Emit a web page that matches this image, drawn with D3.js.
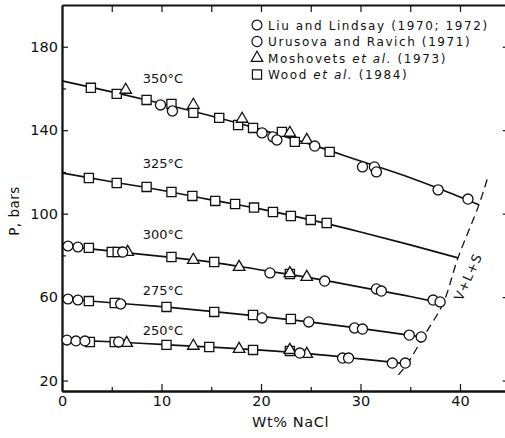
<!DOCTYPE html>
<html>
<head>
<meta charset="utf-8">
<script src="https://cdn.jsdelivr.net/npm/d3@7"></script>
<style>
  html, body { margin: 0; padding: 0; background: #fff; }
  svg { display: block; }
  text { font-family: "DejaVu Sans", sans-serif; fill: #111; }
</style>
</head>
<body>
<svg id="chart" width="505" height="438"></svg>
<script>
// ---- data: [temperature °C, wt% NaCl, P bars] ----
const liuLindsay = [
  [300, 0.6, 84.5], [300, 1.6, 84.0],
  [275, 0.6, 59.1], [275, 1.6, 58.6],
  [250, 0.5, 39.4], [250, 1.4, 39.0], [250, 2.3, 39.0]
];
const urusovaRavich = [
  [350, 9.9, 152.1], [350, 11.1, 149.2], [350, 20.1, 138.7], [350, 21.2, 136.8], [350, 21.6, 135.3],
  [350, 25.4, 132.4], [350, 30.2, 122.4], [350, 31.4, 122.4], [350, 31.6, 120.0], [350, 37.8, 111.4], [350, 40.8, 107.0],
  [300, 6.1, 81.6], [300, 20.9, 71.6], [300, 26.4, 67.7], [300, 31.6, 63.9], [300, 32.1, 62.9], [300, 37.3, 58.6], [300, 38.0, 57.7],
  [275, 5.9, 56.7], [275, 20.1, 50.0], [275, 24.8, 48.1], [275, 29.4, 45.2], [275, 30.2, 44.7], [275, 34.9, 41.8], [275, 36.1, 40.9],
  [250, 5.7, 38.5], [250, 23.9, 33.2], [250, 28.2, 30.8], [250, 28.8, 30.8], [250, 33.2, 28.4], [250, 34.5, 28.4]
];
const moshovets = [
  [350, 6.4, 159.3], [350, 13.2, 152.1], [350, 18.1, 145.4], [350, 22.9, 138.7], [350, 24.6, 135.3],
  [300, 6.6, 81.6], [300, 13.2, 77.8], [300, 17.8, 74.4], [300, 22.9, 71.4], [300, 24.6, 69.6],
  [250, 6.5, 38.0], [250, 13.2, 36.6], [250, 17.8, 35.1], [250, 22.9, 34.6], [250, 24.6, 32.7]
];
const wood = [
  [350, 2.9, 160.3], [350, 5.5, 157.4], [350, 8.5, 154.5], [350, 11.0, 152.6], [350, 13.2, 148.3], [350, 15.8, 145.9],
  [350, 17.7, 142.5], [350, 19.2, 141.1], [350, 22.1, 139.2], [350, 23.4, 134.4], [350, 26.9, 129.6],
  [325, 2.7, 117.1], [325, 5.5, 114.7], [325, 8.5, 112.8], [325, 11.0, 110.4], [325, 13.1, 108.5], [325, 15.4, 106.1],
  [325, 17.4, 104.6], [325, 19.3, 102.9], [325, 21.2, 100.8], [325, 23.0, 98.9], [325, 25.0, 97.0], [325, 26.6, 95.5],
  [300, 2.7, 83.6], [300, 5.0, 81.6], [300, 5.6, 81.6], [300, 11.0, 79.2], [300, 15.3, 76.8], [300, 22.9, 71.1],
  [275, 2.7, 58.1], [275, 5.3, 57.2], [275, 10.5, 55.3], [275, 15.3, 52.9], [275, 19.2, 51.4], [275, 23.0, 49.5],
  [250, 2.8, 38.5], [250, 5.3, 38.5], [250, 10.5, 37.1], [250, 14.8, 36.1], [250, 19.2, 34.7], [250, 22.9, 34.2]
];

// isotherm curves [wt%, P]
const curve350 = [[0,163.6],[5,158.4],[10,152.8],[15,146.8],[20,140.3],[25,133.2],[30,125.2],[35,117.2],[38,111.8],[41.9,104.2]];
const curve325 = [[0,119.5],[5,115.3],[10,111.2],[15,106.6],[20,102.2],[25,97.0],[30,91.2],[35,85.0],[39.8,78.8]];
const curve300 = [[0,84.5],[5,82.0],[10,79.5],[15,76.8],[20,73.0],[25,69.2],[30,64.8],[35,60.3],[38.3,57.0]];
const curve275 = [[0,59.2],[5,57.3],[10,55.4],[15,53.2],[20,50.8],[25,48.0],[30,45.0],[36.3,40.8]];
const curve250 = [[0,39.5],[5,38.6],[10,37.3],[15,36.0],[20,34.6],[25,32.8],[30,30.4],[34.7,28.0]];
const vlsCurve = [[33.8,22.7],[34.7,28.0],[36.3,40.8],[38.3,57.0],[39.8,78.8],[41.9,104.2],[42.8,117.5]];

const isothermLabels = ["350°C", "325°C", "300°C", "275°C", "250°C"];
const isothermLabelPos = [[10.15, 165.0], [10.15, 124.3], [10.15, 90.3], [10.15, 63.4], [10.15, 44.2]];

const xMajorTicks = [0, 10, 20, 30, 40];
const xMinorTicks = [5, 15, 25, 35];
const xTopTicks = [5, 10, 15, 20, 25, 30, 35, 40];
const yMajorTicks = [20, 60, 100, 140, 180];
const yMinorTicks = [40, 80, 120, 160];

const legendLabels = [
  ["Liu and Lindsay (1970; 1972)"],
  ["Urusova and Ravich (1971)"],
  ["Moshovets ", "et al.", " (1973)"],
  ["Wood ", "et al.", " (1984)"]
];

// ---- drawing ----
const svg = d3.select("#chart");
const x = d3.scaleLinear().domain([0, 45]).range([62, 509.75]);
const y = d3.scaleLinear().domain([15, 200]).range([391, 5]);

const axisStyle = g => {
  g.selectAll("path.domain").attr("stroke", "#111").attr("stroke-width", 1.8);
  g.selectAll(".tick line").attr("stroke", "#111").attr("stroke-width", 1.2);
  g.selectAll(".tick text").style("font-size", "14.5px").attr("fill", "#111");
};

// bottom axis
svg.append("g").attr("transform", "translate(0,391)")
  .call(d3.axisBottom(x).tickValues(xMajorTicks).tickSizeInner(-7).tickSizeOuter(0).tickPadding(5).tickFormat(d3.format("d")))
  .call(axisStyle);
svg.append("g").attr("transform", "translate(0,391)")
  .call(d3.axisBottom(x).tickValues(xMinorTicks).tickSizeInner(-4).tickSizeOuter(0).tickFormat(""))
  .call(axisStyle);
// top axis
svg.append("g").attr("transform", "translate(0,5)")
  .call(d3.axisTop(x).tickValues(xTopTicks).tickSizeInner(-7).tickSizeOuter(0).tickFormat(""))
  .call(axisStyle);
// left axis
svg.append("g").attr("transform", "translate(62,0)")
  .call(d3.axisLeft(y).tickValues(yMajorTicks).tickSizeInner(-6).tickSizeOuter(0).tickPadding(4).tickFormat(d3.format("d")))
  .call(axisStyle);
svg.append("g").attr("transform", "translate(62,0)")
  .call(d3.axisLeft(y).tickValues(yMinorTicks).tickSizeInner(-4).tickSizeOuter(0).tickFormat(""))
  .call(axisStyle);
// right axis
svg.append("g").attr("transform", `translate(${x(45)},0)`)
  .call(d3.axisRight(y).tickValues(yMajorTicks).tickSizeInner(-7).tickSizeOuter(0).tickFormat(""))
  .call(axisStyle);

// axis titles
svg.append("text").attr("x", 252).attr("y", 427).style("font-size", "14.5px").style("letter-spacing", "0.6px")
  .text("Wt% NaCl");
svg.append("text").attr("transform", "translate(19,211) rotate(-90)").attr("text-anchor", "middle")
  .style("font-size", "13.5px").style("letter-spacing", "0.5px").text("P, bars");

// isotherm lines
const line = d3.line().x(d => x(d[0])).y(d => y(d[1])).curve(d3.curveMonotoneX);
[curve350, curve325, curve300, curve275, curve250].forEach(c => {
  svg.append("path").datum(c).attr("d", line)
    .attr("fill", "none").attr("stroke", "#111").attr("stroke-width", 1.7);
});
// V+L+S boundary
const dline = d3.line().x(d => x(d[0])).y(d => y(d[1])).curve(d3.curveCatmullRom);
svg.append("path").datum(vlsCurve).attr("d", dline)
  .attr("fill", "none").attr("stroke", "#111").attr("stroke-width", 1.3).attr("stroke-dasharray", "8,5");

// isotherm labels
svg.selectAll("text.iso").data(isothermLabels).join("text").attr("class", "iso")
  .attr("x", (d, i) => x(isothermLabelPos[i][0])).attr("y", (d, i) => y(isothermLabelPos[i][1]) + 5)
  .attr("text-anchor", "middle").style("font-size", "13px").text(d => d);

// V+L+S label
const vp = [40.8, 69.6];
svg.append("text").attr("transform", `translate(${x(vp[0])},${y(vp[1])}) rotate(-66)`)
  .attr("text-anchor", "middle").attr("dy", "0.35em").style("font-size", "13px").style("letter-spacing", "0.8px")
  .text("V+L+S");

// markers
const symCircle = d3.symbol().type(d3.symbolCircle).size(76);
const symCircle2 = d3.symbol().type(d3.symbolCircle).size(80);
const symSquare = d3.symbol().type(d3.symbolSquare).size(84);
const symTri = d3.symbol().type(d3.symbolTriangle).size(58);
const drawSeries = (data, sym) => {
  svg.append("g").selectAll("path").data(data).join("path")
    .attr("transform", d => `translate(${x(d[1])},${y(d[2])})`)
    .attr("d", sym).attr("fill", "#fff").attr("stroke", "#111").attr("stroke-width", 1.3);
};
drawSeries(wood, symSquare);
drawSeries(moshovets, symTri);
drawSeries(liuLindsay, symCircle);
drawSeries(urusovaRavich, symCircle2);

// legend
const legSyms = [symCircle, symCircle2, symTri, symSquare];
const legG = svg.append("g");
legendLabels.forEach((parts, i) => {
  const cy = 25 + i * 16.5;
  legG.append("path").attr("transform", `translate(257,${cy})`).attr("d", legSyms[i])
    .attr("fill", "#fff").attr("stroke", "#111").attr("stroke-width", 1.2);
  const t = legG.append("text").attr("x", 268).attr("y", cy + 4.5)
    .style("font-size", "12px").style("letter-spacing", "1.6px");
  parts.forEach(p => {
    t.append("tspan").style("font-style", p === "et al." ? "italic" : "normal").text(p);
  });
});
</script>
</body>
</html>
